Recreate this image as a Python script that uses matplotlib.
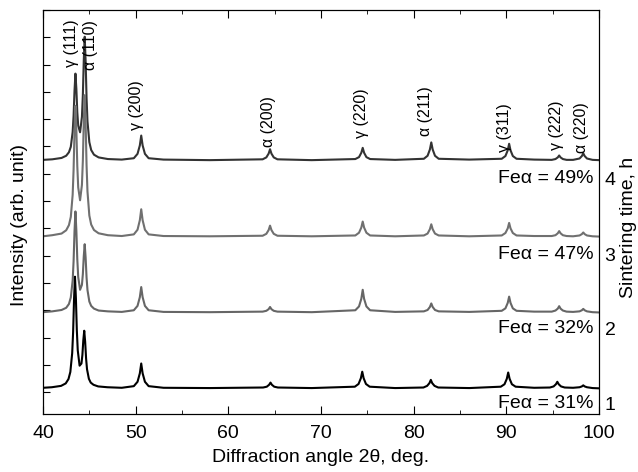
import matplotlib
matplotlib.use('Agg')
import matplotlib.pyplot as plt

plt.rcParams['font.family'] = ['Liberation Sans', 'DejaVu Sans']

# read-off vertices of the four patterns (2theta, intensity in arb. units)
tt1 = [40.0, 40.95, 41.95, 42.45, 42.75, 42.95, 43.15, 43.25, 43.35, 43.45,
       43.55, 43.65, 43.75, 43.95, 44.15, 44.25, 44.35, 44.45, 44.55, 44.65,
       44.75, 44.95, 45.15, 45.45, 45.95, 46.95, 48.5,
       49.8, 50.2, 50.45, 50.6, 50.75, 51.0, 51.4, 53.0, 58.0,
       63.75, 64.15, 64.4, 64.55, 64.7, 64.95, 65.35, 69.0,
       73.65, 74.05, 74.3, 74.45, 74.6, 74.85, 75.25, 78.0,
       81.05, 81.45, 81.7, 81.85, 82.0, 82.25, 82.65, 86.0,
       89.4, 89.8, 90.05, 90.2, 90.35, 90.6, 91.0, 93.0,
       94.7, 95.1, 95.35, 95.5, 95.65, 95.9, 96.3, 97.2,
       97.9, 98.15, 98.3, 98.45, 98.7, 99.3, 100.0]
int1 = [0.16, 0.18, 0.23, 0.32, 0.48, 0.74, 1.43, 2.20, 3.41, 4.23,
        3.44, 2.27, 1.53, 0.97, 1.05, 1.36, 1.90, 2.25, 1.84, 1.23,
        0.84, 0.49, 0.35, 0.27, 0.21, 0.18, 0.16,
        0.22, 0.38, 0.69, 1.05, 0.69, 0.38, 0.22, 0.16, 0.15,
        0.17, 0.2, 0.27, 0.35, 0.27, 0.2, 0.17, 0.15,
        0.2, 0.3, 0.51, 0.75, 0.51, 0.3, 0.2, 0.15,
        0.17, 0.23, 0.33, 0.45, 0.33, 0.23, 0.17, 0.15,
        0.2, 0.29, 0.49, 0.72, 0.49, 0.29, 0.2, 0.16,
        0.17, 0.21, 0.29, 0.38, 0.29, 0.21, 0.17, 0.16,
        0.18, 0.21, 0.25, 0.21, 0.18, 0.15, 0.14]

# patterns 2-4 were read at the same angles
tt_b = [40.0, 41.0, 42.0, 42.5, 42.8, 43.0, 43.2, 43.3, 43.4, 43.5,
        43.6, 43.7, 43.8, 44.0, 44.2, 44.3, 44.4, 44.5, 44.6, 44.7,
        44.8, 45.0, 45.2, 45.5, 46.0, 47.0, 48.5,
        49.8, 50.2, 50.45, 50.6, 50.75, 51.0, 51.4, 53.0, 58.0,
        63.7, 64.1, 64.35, 64.5, 64.65, 64.9, 65.3, 69.0,
        73.7, 74.1, 74.35, 74.5, 74.65, 74.9, 75.3, 78.0,
        81.1, 81.5, 81.75, 81.9, 82.05, 82.3, 82.7, 86.0,
        89.5, 89.9, 90.15, 90.3, 90.45, 90.7, 91.1, 93.0,
        94.9, 95.3, 95.55, 95.7, 95.85, 96.1, 96.5, 97.2,
        97.9, 98.15, 98.3, 98.45, 98.7, 99.3, 100.0]
int2 = [2.93, 2.96, 3.01, 3.09, 3.23, 3.47, 4.09, 4.79, 5.89, 6.62,
        5.92, 4.87, 4.22, 3.75, 3.93, 4.32, 4.98, 5.42, 4.93, 4.20,
        3.74, 3.32, 3.16, 3.06, 2.99, 2.96, 2.94,
        3.0, 3.16, 3.48, 3.85, 3.48, 3.16, 3.0, 2.94, 2.93,
        2.95, 2.98, 3.04, 3.12, 3.04, 2.98, 2.95, 2.93,
        3.0, 3.14, 3.42, 3.75, 3.42, 3.14, 3.0, 2.94,
        2.96, 3.01, 3.12, 3.25, 3.12, 3.01, 2.96, 2.94,
        2.98, 3.07, 3.27, 3.5, 3.27, 3.07, 2.98, 2.95,
        2.95, 2.99, 3.06, 3.15, 3.06, 2.99, 2.95, 2.94,
        2.96, 3.0, 3.05, 3.0, 2.96, 2.93, 2.92]
int3 = [5.71, 5.75, 5.81, 5.93, 6.12, 6.42, 7.23, 8.14, 9.54, 10.49,
        9.62, 8.29, 7.50, 7.03, 7.59, 8.47, 9.92, 10.88, 9.85, 8.32,
        7.35, 6.47, 6.14, 5.94, 5.82, 5.75, 5.72,
        5.78, 5.95, 6.3, 6.7, 6.3, 5.95, 5.78, 5.72, 5.71,
        5.73, 5.8, 5.94, 6.1, 5.94, 5.8, 5.73, 5.71,
        5.74, 5.84, 6.03, 6.25, 6.03, 5.84, 5.74, 5.71,
        5.74, 5.81, 5.97, 6.15, 5.97, 5.81, 5.74, 5.71,
        5.74, 5.83, 6.0, 6.2, 6.0, 5.83, 5.74, 5.72,
        5.72, 5.75, 5.82, 5.9, 5.82, 5.75, 5.72, 5.71,
        5.74, 5.79, 5.85, 5.79, 5.74, 5.71, 5.7]
int4 = [8.51, 8.53, 8.58, 8.66, 8.79, 8.99, 9.53, 10.12, 11.04, 11.67,
        11.11, 10.26, 9.76, 9.52, 10.08, 10.88, 12.16, 13.02, 12.12, 10.78,
        9.92, 9.16, 8.87, 8.70, 8.60, 8.54, 8.52,
        8.57, 8.73, 9.04, 9.4, 9.04, 8.73, 8.57, 8.52, 8.5,
        8.53, 8.6, 8.74, 8.9, 8.74, 8.6, 8.53, 8.5,
        8.54, 8.61, 8.77, 8.95, 8.77, 8.61, 8.54, 8.51,
        8.55, 8.66, 8.89, 9.15, 8.89, 8.66, 8.55, 8.52,
        8.55, 8.65, 8.86, 9.1, 8.86, 8.65, 8.55, 8.52,
        8.51, 8.54, 8.6, 8.67, 8.6, 8.54, 8.51, 8.51,
        8.56, 8.65, 8.75, 8.65, 8.56, 8.51, 8.5]

# peak labels
peak_names = ['γ (111)', 'α (110)', 'γ (200)', 'α (200)', 'γ (220)',
              'α (211)', 'γ (311)', 'γ (222)', 'α (220)']
peak_x = [43.1, 45.1, 50.1, 64.3, 74.4, 81.3, 89.85, 95.4, 98.1]
peak_y = [11.9, 11.8, 9.6, 8.97, 9.3, 9.38, 8.8, 8.86, 8.75]

# phase fraction and sintering time labels
fe_labels = ['Feα = 31%', 'Feα = 32%', 'Feα = 47%', 'Feα = 49%']
time_labels = ['1', '2', '3', '4']
label_y = [-0.40, 2.34, 5.05, 7.84]

fig = plt.figure(figsize=(6.38, 4.72), dpi=100)
ax = fig.add_axes([0.0674, 0.1229, 0.8715, 0.8559])

ax.plot(tt_b, int4, color='#333333', lw=1.5)
ax.plot(tt_b, int3, color='#707070', lw=1.5)
ax.plot(tt_b, int2, color='#666666', lw=1.5)
ax.plot(tt1, int1, color='black', lw=1.5)

for name, px, py in zip(peak_names, peak_x, peak_y):
    ax.text(px, py, name, rotation=90, ha='center', va='bottom', fontsize=11.5)

for lab, ly in zip(fe_labels, label_y):
    ax.text(99.4, ly, lab, ha='right', va='center', fontsize=14)

ax.set_xlim(40, 100)
ax.set_ylim(-0.8, 14.0)
ax.set_xticks([40, 50, 60, 70, 80, 90, 100])
ax.set_xticks([45, 55, 65, 75, 85, 95], minor=True)
ax.set_yticks(range(0, 15))
ax.set_yticklabels([])
ax.tick_params(axis='x', which='major', direction='in', length=6, top=True,
               labelsize=14, pad=8)
ax.tick_params(axis='x', which='minor', direction='in', length=3, top=True)
ax.tick_params(axis='y', direction='in', length=5, right=False)
ax.set_xlabel('Diffraction angle 2θ, deg.', fontsize=14, labelpad=5)
ax.set_ylabel('Intensity (arb. unit)', fontsize=14)
ax.yaxis.set_label_coords(-0.027, 0.468)

ax2 = ax.twinx()
ax2.set_ylim(ax.get_ylim())
ax2.set_yticks(label_y)
ax2.set_yticklabels(time_labels)
ax2.tick_params(axis='y', length=0, pad=4, labelsize=14)
ax2.set_ylabel('Sintering time, h', fontsize=14)
ax2.yaxis.set_label_coords(1.038, 0.463)

fig.savefig('out.png', dpi=100)
